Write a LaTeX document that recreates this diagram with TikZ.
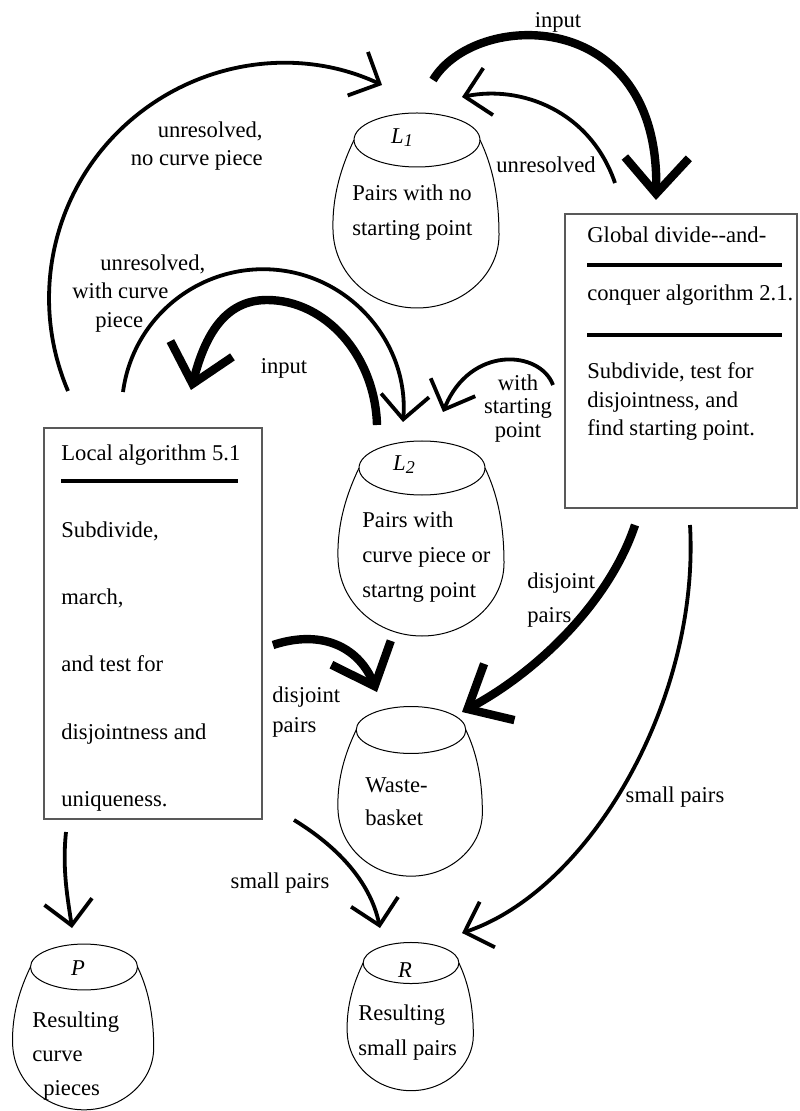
\documentclass[tikz,border=0pt]{standalone}
\usepackage{fontspec}
\setmainfont{Liberation Serif}
\usetikzlibrary{arrows.meta}

% basket: #1 lid centre, #2 size, #3 name of the lid centre
\newcommand{\basket}[3]{%
  \begin{scope}[shift={#1}, scale=#2]
    \draw[rim] (0,0) ellipse [x radius=63, y radius=27];
    \draw[rim] (-63,0) .. controls (-75,25) and (-85,55) .. (-84,90)
      .. controls (-83,135) and (-45,168) .. (0,168)
      .. controls (45,168) and (82,135) .. (82,95)
      .. controls (82,55) and (75,25) .. (63,0);
    \coordinate (#3) at (0,0);
  \end{scope}}

\begin{document}
\begin{tikzpicture}[x=0.5pt, y=-0.5pt, font=\fontsize{11.3}{17.5}\selectfont]
    \tikzstyle{rim} = [line width=0.5pt]
    \tikzstyle{algbox} = [rectangle, draw=black!65, line width=0.8pt, anchor=north west, inner sep=0pt]
    \tikzstyle{rulebar} = [rectangle, fill=black, inner sep=0pt, minimum height=2pt, anchor=west]
    \tikzstyle{txt} = [inner sep=0pt, anchor=west, align=left]
    \tikzstyle{lbl} = [inner sep=0pt, align=center]
    \tikzstyle{flow} = [line width=1.9pt, -{Straight Barb[length=12pt, width=24pt]}]
    \tikzstyle{heavy} = [line width=4.2pt, -{Straight Barb[length=18pt, width=32pt]}]

    \path[use as bounding box, fill=white] (0,0) rectangle (799,1111);

    % baskets
    \basket{(417,140)}{1}{L1}
    \basket{(422,468)}{1}{L2}
    \basket{(411,730)}{0.87}{WB}
    \basket{(84,967)}{0.85}{P}
    \basket{(411,963)}{0.76}{R}

    \node [lbl] (L1lbl) at (402,138) {\textit{L}\raisebox{-0.3ex}{\small\textit{1}}};
    \node [lbl] (L2lbl) at (404,465) {\textit{L}\raisebox{-0.3ex}{\small\textit{2}}};
    \node [lbl] (Plbl) at (78,968) {\textit{P}};
    \node [lbl] (Rlbl) at (405,970) {\textit{R}};

    \node [txt] (L1txt) at (352,212.5) {Pairs with no\\starting point};
    \node [txt] (L2txt) at (362,557) {Pairs with\\curve piece or\\startng point};
    \node [txt, font=\fontsize{11.3}{16.5}\selectfont] (WBtxt) at (365,801.5) {Waste-\\basket};
    \node [txt, font=\fontsize{11.3}{17}\selectfont] (Ptxt) at (32,1056) {Resulting\\curve\\\hspace*{5.5pt}pieces};
    \node [txt] (Rtxt) at (358,1032.5) {Resulting\\small pairs};

    % algorithm boxes
    \node [algbox, minimum width=109pt, minimum height=195.5pt] (local) at (43,427) {};
    \node [txt] (LAtitle) at (61,455) {Local algorithm 5.1};
    \node [rulebar, minimum width=88.5pt] (LAbar) at (61,481) {};
    \node [txt, font=\fontsize{11.3}{33.6}\selectfont] (LAtxt) at (61,666.5) {Subdivide,\\march,\\and test for\\disjointness and\\uniqueness.};

    \node [algbox, minimum width=116pt, minimum height=147pt] (global) at (564,213) {};
    \node [txt] (GAtitle1) at (587,235) {Global divide-{}-and-};
    \node [rulebar, minimum width=97.5pt] (GAbar1) at (587,265) {};
    \node [txt] (GAtitle2) at (587,295) {conquer algorithm 2.1.};
    \node [rulebar, minimum width=97.5pt] (GAbar2) at (587,335) {};
    \node [txt, font=\fontsize{11.3}{14.25}\selectfont] (GAtxt) at (587,401.5) {Subdivide, test for\\disjointness, and\\find starting point.};

    % connector ends
    \coordinate (topInS) at (433,80);   \coordinate (topInE) at (656,200);
    \coordinate (unrS) at (615,183);    \coordinate (unrE) at (462,97);
    \coordinate (nocS) at (68,391);     \coordinate (nocE) at (382,85);
    \coordinate (wcpS) at (123,392);    \coordinate (wcpE) at (403,422);
    \coordinate (inMidS) at (377,425);  \coordinate (inMidE) at (191,390);
    \coordinate (wspS) at (553,385);    \coordinate (wspE) at (443,412);
    \coordinate (djRS) at (635,525);    \coordinate (djRE) at (462,712);
    \coordinate (djLS) at (273,645);    \coordinate (djLE) at (377,692);
    \coordinate (spLS) at (294,820);    \coordinate (spLE) at (380,928);
    \coordinate (spRS) at (690,525);    \coordinate (spRE) at (462,933);
    \coordinate (toPS) at (66,832);     \coordinate (toPE) at (72,928);

    \draw [heavy] (topInS) .. controls (475,10) and (660,5) .. (topInE);
    \draw [flow] (unrS) .. controls (590,110) and (520,85) .. (unrE);
    \draw [flow] (nocS) .. controls (30,302) and (50,198) .. (120,130)
        .. controls (190,62) and (294,44) .. (nocE);
    \draw [flow] (wcpS) .. controls (133,316) and (202,262) .. (278,270)
        .. controls (354,278) and (409,346) .. (wcpE);
    \draw [heavy] (inMidS) .. controls (375,355) and (325,300) .. (267,300)
        .. controls (225,300) and (205,335) .. (inMidE);
    \draw [flow] (wspS) .. controls (540,350) and (470,345) .. (wspE);
    \draw [heavy] (djRS) .. controls (610,600) and (540,670) .. (djRE);
    \draw [heavy] (djLS) .. controls (325,628) and (360,650) .. (djLE);
    \draw [flow] (spLS) .. controls (335,845) and (370,880) .. (spLE);
    \draw [flow] (spRS) .. controls (700,700) and (590,890) .. (spRE);
    \draw [flow] (toPS) .. controls (62,870) and (68,900) .. (toPE);

    % labels
    \node [lbl] (lbInTop) at (558,22) {input};
    \node [lbl] (lbUnrR) at (546,165) {unresolved};
    \node [lbl, anchor=east, align=right, font=\fontsize{11.3}{14}\selectfont] (lbNoC) at (263,146) {unresolved,\\no curve piece};
    \node [txt, font=\fontsize{11.3}{14.25}\selectfont] (lbWiC) at (72,293.5) {\hspace*{14pt}unresolved,\\with curve\\\hspace*{11.5pt}piece};
    \node [lbl] (lbInMid) at (284,368) {input};
    \node [lbl, font=\fontsize{11.3}{11.75}\selectfont] (lbWSP) at (518,408.5) {with\\starting\\point};
    \node [txt, font=\fontsize{11.3}{17}\selectfont] (lbDjR) at (527,600) {disjoint\\pairs};
    \node [txt, font=\fontsize{11.3}{15}\selectfont] (lbDjL) at (272,712) {disjoint\\pairs};
    \node [lbl] (lbSpL) at (280,883) {small pairs};
    \node [lbl] (lbSpR) at (675,797) {small pairs};
\end{tikzpicture}
\end{document}
